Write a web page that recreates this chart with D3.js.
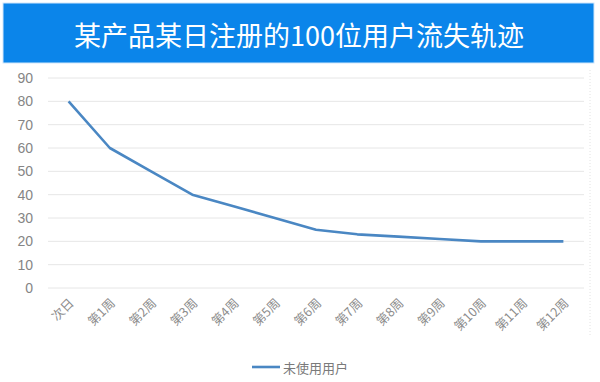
<!DOCTYPE html>
<html><head><meta charset="utf-8">
<script src="https://cdn.jsdelivr.net/npm/d3@7"></script>
<style>body{margin:0;background:#fff}svg{display:block}</style>
</head><body>
<svg id="c" width="600" height="382"></svg>
<script>
const categories = ["次日","第1周","第2周","第3周","第4周","第5周","第6周","第7周","第8周","第9周","第10周","第11周","第12周"];
const values = [80,60,50,40,35,30,25,23,22,21,20,20,20];
const yTicks = [0,10,20,30,40,50,60,70,80,90];
const seriesName = "未使用用户";
const title = "某产品某日注册的100位用户流失轨迹";

const svg = d3.select("#c");
const fontCJK = "'Noto Sans CJK SC','Microsoft YaHei',sans-serif";

// title band
svg.append("rect").attr("x",3).attr("y",3).attr("width",591).attr("height",60)
  .attr("fill","#0b85ea").attr("stroke","#cfe6fb").attr("stroke-width",1);
svg.append("text").attr("x",299).attr("y",34).attr("text-anchor","middle")
  .attr("dominant-baseline","central").attr("fill","#fff")
  .attr("font-family",fontCJK).attr("font-size",27).text(title);

const x = d3.scaleBand().domain(categories).range([48,584]);
const y = d3.scaleLinear().domain([0,90]).range([288,78]);

// gridlines
svg.append("g").selectAll("line").data(yTicks).join("line")
  .attr("x1",48).attr("x2",584).attr("y1",d=>y(d)).attr("y2",d=>y(d))
  .attr("stroke","#e6e6e6").attr("stroke-width",1);

// right dotted border
svg.append("line").attr("x1",590).attr("x2",590).attr("y1",70).attr("y2",335)
  .attr("stroke","#e2e2e2").attr("stroke-dasharray","1,2");

// y axis labels
const yAxis = d3.axisLeft(y).tickValues(yTicks).tickSize(0).tickPadding(0);
const gy = svg.append("g").attr("transform","translate(33,0)").call(yAxis);
gy.select(".domain").remove();
gy.selectAll("text").attr("fill","#858585").attr("font-size",14)
  .attr("font-family","'Liberation Sans',Arial,sans-serif");

// x axis labels
const xAxis = d3.axisBottom(x).tickSize(0).tickPadding(0);
const gx = svg.append("g").attr("transform","translate(0,300)").call(xAxis);
gx.select(".domain").remove();
gx.selectAll("text").attr("fill","#8c8c8c").attr("font-size",12.5)
  .attr("font-family",fontCJK)
  .attr("text-anchor","end").attr("dy",0)
  .attr("transform","translate(6,4) rotate(-45)");

// line
const line = d3.line().x((d,i)=>x(categories[i])+x.bandwidth()/2).y(d=>y(d));
svg.append("path").datum(values).attr("d",line).attr("fill","none")
  .attr("stroke","#4a87c3").attr("stroke-width",2.6).attr("stroke-linejoin","round");

// legend
svg.append("line").attr("x1",252).attr("x2",280).attr("y1",367).attr("y2",367)
  .attr("stroke","#4a87c3").attr("stroke-width",2.6);
svg.append("text").attr("x",283).attr("y",367).attr("dominant-baseline","central")
  .attr("fill","#7a7a7a").attr("font-size",13).attr("font-family",fontCJK).text(seriesName);
</script>
</body></html>
